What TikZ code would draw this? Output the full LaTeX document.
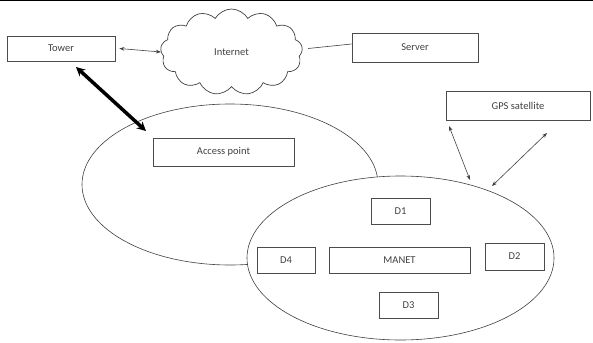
\documentclass[tikz,border=0pt]{standalone}
\usepackage{fontspec}
\setmainfont{Carlito}
\usetikzlibrary{shapes.symbols,arrows.meta}
\begin{document}
\begin{tikzpicture}[x=1pt,y=-1pt,
  box/.style={draw=black!70, line width=0.8pt, font=\fontsize{10.5}{12}\selectfont, text=black!75},
  lbl/.style={font=\fontsize{10.5}{12}\selectfont, text=black!75},
  thin/.style={draw=black!75, line width=0.6pt}]
\useasboundingbox (0,0) rectangle (593,342);
\draw[line width=1.5pt] (0,0.7) -- (593,0.7);
% boxes
\node[box, minimum width=108pt, minimum height=25pt] (tower) at (61,48.5) {Tower};
\node[box, minimum width=126pt, minimum height=29pt] (server) at (415,47.5) {Server};
\node[box, minimum width=144pt, minimum height=29pt] (gps) at (518,105.5) {GPS satellite};
% cloud
\node[cloud, cloud puffs=13, cloud puff arc=120, aspect=1.7, draw=black!75, line width=0.7pt,
      minimum width=142pt, minimum height=86pt, inner sep=0pt, lbl] (net) at (231.5,52) {Internet};
% ellipses
\draw[thin] (230,184.5) ellipse [x radius=148, y radius=80.5];
\node[box, minimum width=141pt, minimum height=28pt] (ap) at (223.5,152) {Access point};
\filldraw[thin, fill=white] (400.5,258) ellipse [x radius=153.5, y radius=82];
\node[box, minimum width=59pt, minimum height=26pt] (d1) at (400.5,211) {D1};
\node[box, minimum width=58pt, minimum height=26pt] (d4) at (286,260) {D4};
\node[box, minimum width=141pt, minimum height=26pt] (manet) at (399.5,260) {MANET};
\node[box, minimum width=59pt, minimum height=27pt] (d2) at (514.5,256.5) {D2};
\node[box, minimum width=59pt, minimum height=26pt] (d3) at (408.5,305) {D3};
% connectors
\draw[thin, {Stealth[length=5pt]}-{Stealth[length=5pt]}] ([xshift=4pt]tower.east) -- (net.west);
\draw[thin] ([xshift=6pt,yshift=3.5pt]net.east) -- ([yshift=3.5pt]server.west);
\coordinate (tA) at (76,67);
\coordinate (apA) at (146,131);
\draw[line width=3.5pt, {Stealth[length=9pt,width=9pt]}-{Stealth[length=9pt,width=9pt]}] (tA) -- (apA);
\coordinate (g1a) at (449,126);
\coordinate (g1b) at (470,180);
\coordinate (g2a) at (547,133);
\coordinate (g2b) at (492,186);
\draw[thin, {Stealth[length=5pt]}-{Stealth[length=5pt]}] (g1a) -- (g1b);
\draw[thin, {Stealth[length=5pt]}-{Stealth[length=5pt]}] (g2a) -- (g2b);
\end{tikzpicture}
\end{document}
